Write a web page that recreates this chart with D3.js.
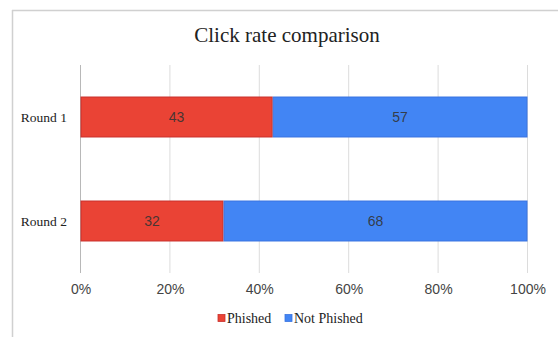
<!DOCTYPE html>
<html>
<head>
<meta charset="utf-8">
<script src="https://cdn.jsdelivr.net/npm/d3@7"></script>
<style>
  html, body { margin: 0; padding: 0; background: #fff; }
  svg { display: block; }
</style>
</head>
<body>
<svg id="chart" width="558" height="337"></svg>
<script>
const categories = ["Round 1", "Round 2"];
const seriesNames = ["Phished", "Not Phished"];
const phished = [43, 32];
const notPhished = [57, 68];
const tickValues = [0, 20, 40, 60, 80, 100];
const colors = ["#ea4335", "#4285f4"];
const strokeColors = ["#c9302c", "#3a74e0"];

const svg = d3.select("#chart");
const W = 558, H = 337;

// outer chart border (top and left visible)
svg.append("line").attr("x1", 12).attr("x2", W).attr("y1", 10.5).attr("y2", 10.5)
  .attr("stroke", "#d0d0d0").attr("stroke-width", 1.5);
svg.append("line").attr("x1", 12.5).attr("x2", 12.5).attr("y1", 10).attr("y2", H)
  .attr("stroke", "#d0d0d0").attr("stroke-width", 1.5);

// title
svg.append("text")
  .attr("x", 287).attr("y", 42)
  .attr("text-anchor", "middle")
  .attr("font-family", "Liberation Serif, Times New Roman, serif")
  .attr("font-size", 21)
  .attr("fill", "#222")
  .text("Click rate comparison");

const plot = { left: 80.5, right: 527.5, top: 65, bottom: 273 };

const x = d3.scaleLinear().domain([0, 100]).range([plot.left, plot.right]);
const y = d3.scaleBand().domain(categories)
  .range([plot.top, plot.bottom])
  .paddingInner(0.606).paddingOuter(0.303);

// gridlines
svg.append("g").selectAll("line").data(tickValues).join("line")
  .attr("x1", d => x(d)).attr("x2", d => x(d))
  .attr("y1", plot.top).attr("y2", plot.bottom)
  .attr("stroke", d => d === 0 ? "#b8b8b8" : "#dcdcdc")
  .attr("stroke-width", 1);

// stacked data
const rows = categories.map((c, i) => ({ cat: c, Phished: phished[i], "Not Phished": notPhished[i] }));
const stack = d3.stack().keys(seriesNames)(rows);

const layer = svg.append("g").selectAll("g").data(stack).join("g");
layer.selectAll("rect").data((d, si) => d.map(p => ({ p, si })))
  .join("rect")
  .attr("x", d => x(d.p[0]) + 0.5)
  .attr("y", d => y(d.p.data.cat) + 0.5)
  .attr("width", d => x(d.p[1]) - x(d.p[0]) - 1)
  .attr("height", y.bandwidth() - 1)
  .attr("fill", d => colors[d.si])
  .attr("stroke", d => strokeColors[d.si])
  .attr("stroke-width", 1);

layer.selectAll("text").data((d, si) => d.map(p => ({ p, si })))
  .join("text")
  .attr("x", d => (x(d.p[0]) + x(d.p[1])) / 2)
  .attr("y", d => y(d.p.data.cat) + y.bandwidth() / 2)
  .attr("dy", "0.35em")
  .attr("text-anchor", "middle")
  .attr("font-family", "Liberation Sans, Arial, sans-serif")
  .attr("font-size", 14)
  .attr("fill", "#333")
  .attr("fill-opacity", 0.9)
  .text(d => d.p[1] - d.p[0]);

// y-axis labels
svg.append("g").selectAll("text").data(categories).join("text")
  .attr("x", 67)
  .attr("y", d => y(d) + y.bandwidth() / 2)
  .attr("dy", "0.35em")
  .attr("text-anchor", "end")
  .attr("font-family", "Liberation Serif, Times New Roman, serif")
  .attr("font-size", 13.5)
  .attr("fill", "#222")
  .text(d => d);

// x-axis tick labels via d3 axis
const xAxis = d3.axisBottom(x).tickValues(tickValues).tickSize(0).tickPadding(0)
  .tickFormat(d => d + "%");
const gx = svg.append("g").attr("transform", `translate(0, ${plot.bottom + 11})`).call(xAxis);
gx.select(".domain").remove();
gx.selectAll("text")
  .attr("font-family", "Liberation Sans, Arial, sans-serif")
  .attr("font-size", 14)
  .attr("fill", "#444");

// legend
const legendItems = [
  { name: seriesNames[0], color: colors[0], stroke: strokeColors[0], x: 218 },
  { name: seriesNames[1], color: colors[1], stroke: strokeColors[1], x: 285 }
];
const lg = svg.append("g").selectAll("g").data(legendItems).join("g")
  .attr("transform", d => `translate(${d.x}, 318)`);
lg.append("rect").attr("x", 0).attr("y", -3.5).attr("width", 7).attr("height", 7)
  .attr("fill", d => d.color).attr("stroke", d => d.stroke).attr("stroke-width", 0.8);
lg.append("text").attr("x", 9).attr("y", 0).attr("dy", "0.35em")
  .attr("font-family", "Liberation Serif, Times New Roman, serif")
  .attr("font-size", 14)
  .attr("fill", "#222")
  .text(d => d.name);
</script>
</body>
</html>
